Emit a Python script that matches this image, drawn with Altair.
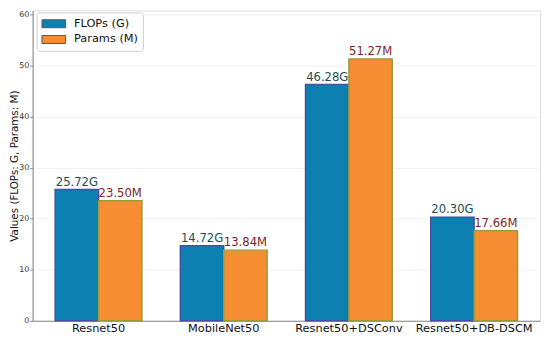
import altair as alt
import pandas as pd

models = ["Resnet50", "MobileNet50", "Resnet50+DSConv", "Resnet50+DB-DSCM"]
flops = [25.72, 14.72, 46.28, 20.30]
params = [23.50, 13.84, 51.27, 17.66]
series = ["FLOPs (G)", "Params (M)"]
suffixes = ["G", "M"]
y_ticks = [0, 10, 20, 30, 40, 50, 60]

rows = []
for m, f, p in zip(models, flops, params):
    rows.append(dict(model=m, series=series[0], value=f, label=f"{f:.2f}{suffixes[0]}"))
    rows.append(dict(model=m, series=series[1], value=p, label=f"{p:.2f}{suffixes[1]}"))
df = pd.DataFrame(rows)

FONT = "DejaVu Sans"

x_enc = alt.X(
    "model:N", sort=models, title=None,
    scale=alt.Scale(paddingInner=0.307, paddingOuter=0.18),
    axis=alt.Axis(labelAngle=0, labelFontSize=11.5, labelColor="#111", labelFont=FONT,
                  domainColor="#888", tickSize=0, labelPadding=2),
)
xo_enc = alt.XOffset("series:N", sort=series, scale=alt.Scale(paddingInner=0, paddingOuter=0))
y_enc = alt.Y(
    "value:Q",
    scale=alt.Scale(domain=[0, 60.8], nice=False, zero=True),
    axis=alt.Axis(values=y_ticks, title="Values (FLOPs: G, Params: M)", titleFontSize=10.5,
                  titleFont=FONT, titleFontWeight="normal", titleColor="#111",
                  titleX=-13, titleBaseline="bottom",
                  labelFontSize=8, labelFont=FONT, labelColor="#333", tickSize=3,
                  labelPadding=1, domainColor="#888", tickColor="#888",
                  grid=True, gridColor="#ececec", gridWidth=0.8),
)

bars = alt.Chart(df).mark_bar(strokeWidth=1.5).encode(
    x=x_enc,
    xOffset=xo_enc,
    y=y_enc,
    color=alt.Color("series:N", sort=series,
                    scale=alt.Scale(domain=series, range=["#0d80b2", "#f78d33"]),
                    legend=alt.Legend(title=None, orient="none", legendX=4, legendY=2,
                                      labelFontSize=11.5, labelFont=FONT, labelColor="#111",
                                      symbolType="M-2,-0.67H2V0.67H-2Z", symbolSize=144,
                                      symbolOffset=6,
                                      symbolStrokeWidth=1, symbolStrokeColor="#555",
                                      fillColor="white", strokeColor="#d0d0d0", cornerRadius=3,
                                      padding=5, rowPadding=3, labelOffset=14,
                                      labelExpr="datum.label + '   '")),
    stroke=alt.Stroke("series:N", sort=series,
                      scale=alt.Scale(domain=series, range=["#4550a3", "#9a9a3a"]),
                      legend=None),
)

texts = alt.Chart(df).mark_text(baseline="bottom", dy=-2, fontSize=11.8, font=FONT).encode(
    x=alt.X("model:N", sort=models),
    xOffset=alt.XOffset("series:N", sort=series),
    y=alt.Y("value:Q"),
    text="label:N",
    color=alt.Color("series:N", sort=series,
                    scale=alt.Scale(domain=series, range=["#1d4f52", "#7d1f28"]),
                    legend=None),
)

chart = alt.layer(bars, texts).resolve_scale(color="independent").properties(
    width=515, height=315,
    autosize=alt.AutoSizeParams(type="none"),
    padding={"left": 25, "top": 0, "right": 2, "bottom": 14},
).configure_view(stroke="#888", strokeWidth=1).configure(background="white")

chart.save("out.html", embed_options={"renderer": "svg", "actions": False})
